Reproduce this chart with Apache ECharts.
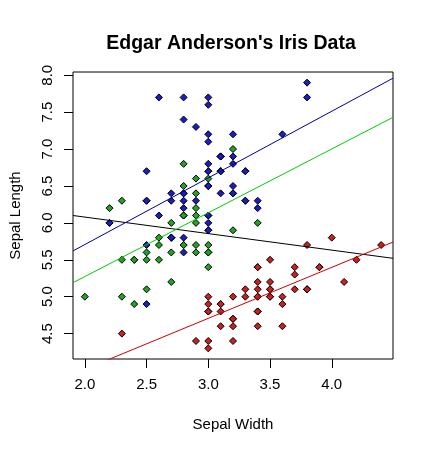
<!DOCTYPE html>
<html>
<head>
<meta charset="utf-8">
<script src="https://cdn.jsdelivr.net/npm/echarts@6/dist/echarts.min.js"></script>
<style>
html,body{margin:0;padding:0;background:#fff;}
#c{width:431px;height:451px;}
</style>
</head>
<body>
<div id="c"></div>
<script>
// Iris data: [Sepal.Width, Sepal.Length]
const setosaWidth = [3.5,3.0,3.2,3.1,3.6,3.9,3.4,3.4,2.9,3.1,3.7,3.4,3.0,3.0,4.0,4.4,3.9,3.5,3.8,3.8,3.4,3.7,3.6,3.3,3.4,3.0,3.4,3.5,3.4,3.2,3.1,3.4,4.1,4.2,3.1,3.2,3.5,3.6,3.0,3.4,3.5,2.3,3.2,3.5,3.8,3.0,3.8,3.2,3.7,3.3];
const setosaLength = [5.1,4.9,4.7,4.6,5.0,5.4,4.6,5.0,4.4,4.9,5.4,4.8,4.8,4.3,5.8,5.7,5.4,5.1,5.7,5.1,5.4,5.1,4.6,5.1,4.8,5.0,5.0,5.2,5.2,4.7,4.8,5.4,5.2,5.5,4.9,5.0,5.5,4.9,4.4,5.1,5.0,4.5,4.4,5.0,5.1,4.8,5.1,4.6,5.3,5.0];
const versicolorWidth = [3.2,3.2,3.1,2.3,2.8,2.8,3.3,2.4,2.9,2.7,2.0,3.0,2.2,2.9,2.9,3.1,3.0,2.7,2.2,2.5,3.2,2.8,2.5,2.8,2.9,3.0,2.8,3.0,2.9,2.6,2.4,2.4,2.7,2.7,3.0,3.4,3.1,2.3,3.0,2.5,2.6,3.0,2.6,2.3,2.7,3.0,2.9,2.9,2.5,2.8];
const versicolorLength = [7.0,6.4,6.9,5.5,6.5,5.7,6.3,4.9,6.6,5.2,5.0,5.9,6.0,6.1,5.6,6.7,5.6,5.8,6.2,5.6,5.9,6.1,6.3,6.1,6.4,6.6,6.8,6.7,6.0,5.7,5.5,5.5,5.8,6.0,5.4,6.0,6.7,6.3,5.6,5.5,5.5,6.1,5.8,5.0,5.6,5.7,5.7,6.2,5.1,5.7];
const virginicaWidth = [3.3,2.7,3.0,2.9,3.0,3.0,2.5,2.9,2.5,3.6,3.2,2.7,3.0,2.5,2.8,3.2,3.0,3.8,2.6,2.2,3.2,2.8,2.8,2.7,3.3,3.2,2.8,3.0,2.8,3.0,2.8,3.8,2.8,2.8,2.6,3.0,3.4,3.1,3.0,3.1,3.1,3.1,2.7,3.2,3.3,3.0,2.5,3.0,3.4,3.0];
const virginicaLength = [6.3,5.8,7.1,6.3,6.5,7.6,4.9,7.3,6.7,7.2,6.5,6.4,6.8,5.7,5.8,6.4,6.5,7.7,7.7,6.0,6.9,5.6,7.7,6.3,6.7,7.2,6.2,6.1,6.4,7.2,7.4,7.9,6.4,6.3,6.1,7.7,6.3,6.4,6.0,6.9,6.7,6.9,5.8,6.8,6.7,6.7,6.3,6.5,6.2,5.9];

// Fitted lines, read at the plot's left and right edges
const lineX = [1.904, 4.496];
const fitAllY = [6.10, 5.52];
const fitSetosaY = [3.95, 5.74];
const fitVersicolorY = [5.19, 7.43];
const fitVirginicaY = [5.62, 7.96];

const xTicks = [2.0, 2.5, 3.0, 3.5, 4.0];
const yTicks = [4.5, 5.0, 5.5, 6.0, 6.5, 7.0, 7.5, 8.0];

const FONT = "'Liberation Sans', Arial, sans-serif";

function pairs(xs, ys) { return xs.map((x, i) => [x, ys[i]]); }

function pointSeries(xs, ys, color) {
  return {
    type: 'scatter',
    data: pairs(xs, ys),
    symbol: 'diamond',
    symbolSize: 7,
    itemStyle: { color: color, borderColor: '#000', borderWidth: 1, opacity: 1 },
    emphasis: { disabled: true },
    z: 2
  };
}
function lineSeries(ys, color) {
  return {
    type: 'line',
    data: pairs(lineX, ys),
    symbol: 'none',
    clip: true,
    lineStyle: { color: color, width: 1 },
    emphasis: { disabled: true },
    z: 3
  };
}

const chart = echarts.init(document.getElementById('c'), null, { renderer: 'canvas' });
chart.setOption({
  animation: false,
  backgroundColor: '#fff',
  title: {
    text: "Edgar Anderson's Iris Data",
    left: 226,
    textAlign: 'center',
    top: 29,
    textStyle: { fontFamily: FONT, fontSize: 19.5, fontWeight: 'bold', color: '#000' }
  },
  grid: {
    left: 73, right: 38, top: 72, bottom: 92,
    show: true, borderColor: '#000', borderWidth: 1, backgroundColor: '#fff'
  },
  xAxis: {
    type: 'value',
    min: 1.904, max: 4.496,
    name: 'Sepal Width',
    nameLocation: 'middle',
    nameGap: 58,
    nameTextStyle: { fontFamily: FONT, fontSize: 15, color: '#000' },
    axisLine: { show: false },
    axisTick: { show: true, length: 9, customValues: xTicks, lineStyle: { color: '#000' } },
    axisLabel: { customValues: xTicks, fontFamily: FONT, fontSize: 15, color: '#000', margin: 18,
      formatter: v => v.toFixed(1) },
    splitLine: { show: false }
  },
  yAxis: {
    type: 'value',
    min: 4.156, max: 8.044,
    name: 'Sepal Length',
    nameLocation: 'middle',
    nameGap: 50,
    nameTextStyle: { fontFamily: FONT, fontSize: 15, color: '#000' },
    axisLine: { show: false },
    axisTick: { show: true, length: 9, customValues: yTicks, lineStyle: { color: '#000' } },
    axisLabel: { customValues: yTicks, rotate: 90, fontFamily: FONT, fontSize: 15, color: '#000', margin: 18,
      formatter: v => v.toFixed(1) },
    splitLine: { show: false }
  },
  series: [
    pointSeries(setosaWidth, setosaLength, '#cc1f1f'),
    pointSeries(versicolorWidth, versicolorLength, '#22a322'),
    pointSeries(virginicaWidth, virginicaLength, '#1c1cc4'),
    lineSeries(fitAllY, '#000000'),
    lineSeries(fitSetosaY, '#cd0000'),
    lineSeries(fitVersicolorY, '#00cd00'),
    lineSeries(fitVirginicaY, '#0000a8')
  ]
});
</script>
</body>
</html>
